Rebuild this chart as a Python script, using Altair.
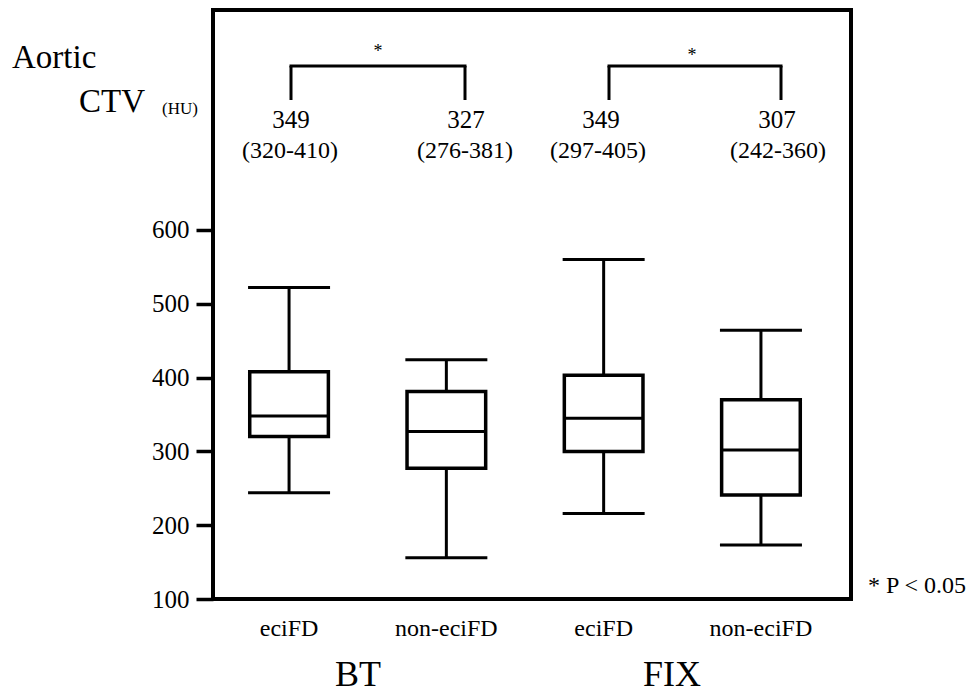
import altair as alt
import pandas as pd

# ---- data ----
groups = ["BT", "BT", "FIX", "FIX"]
categories = ["BT eciFD", "BT non-eciFD", "FIX eciFD", "FIX non-eciFD"]
cat_labels = ["eciFD", "non-eciFD", "eciFD", "non-eciFD"]
whisker_low = [244, 156, 216, 173]
q1 = [320, 277, 300, 241]
median = [348, 327, 345, 302]
q3 = [408, 381, 403, 370]
whisker_high = [522, 424, 560, 464]
median_text = ["349", "327", "349", "307"]
iqr_text = ["(320-410)", "(276-381)", "(297-405)", "(242-360)"]
y_ticks = [100, 200, 300, 400, 500, 600]

df = pd.DataFrame({
    "cat": categories,
    "low": whisker_low,
    "q1": q1,
    "med": median,
    "q3": q3,
    "high": whisker_high,
})

FONT = "Liberation Serif"
label_map = "{" + ",".join(f"'{c}':'{l}'" for c, l in zip(categories, cat_labels)) + "}"

xscale = alt.Scale(domain=categories, paddingInner=0.5, paddingOuter=0.278, align=0.42)
yscale = alt.Scale(domain=[100, 898], nice=False, zero=False)

x_enc = alt.X("cat:N", scale=xscale, sort=categories, title=None,
              axis=alt.Axis(labelExpr=f"{label_map}[datum.value]", ticks=False, domain=False,
                            labelAngle=0, labelFont=FONT, labelFontSize=24,
                            labelColor="black", labelPadding=17))
y_axis = alt.Axis(values=y_ticks, tickSize=17, tickWidth=3.5, tickColor="black", domain=False,
                  grid=False, labelFont=FONT, labelFontSize=25, labelColor="black",
                  labelPadding=7, title=None)

base = alt.Chart(df)

LW = 3
whisker = base.mark_rule(color="black", strokeWidth=LW, opacity=1).encode(
    x=x_enc, y=alt.Y("low:Q", scale=yscale, axis=y_axis), y2="high:Q")
box = base.mark_bar(fill="white", stroke="black", strokeWidth=3.5, opacity=1).encode(
    x=x_enc, y=alt.Y("q1:Q", scale=yscale), y2="q3:Q")
med = base.mark_tick(color="black", thickness=LW, size=80, opacity=1).encode(
    x=x_enc, y=alt.Y("med:Q", scale=yscale))
cap_lo = base.mark_tick(color="black", thickness=LW, size=82, opacity=1).encode(
    x=x_enc, y=alt.Y("low:Q", scale=yscale))
cap_hi = base.mark_tick(color="black", thickness=LW, size=82, opacity=1).encode(
    x=x_enc, y=alt.Y("high:Q", scale=yscale))

one = pd.DataFrame({"k": [0]})


def txt(s, x, y, size, align="center", baseline="middle"):
    return alt.Chart(one).mark_text(text=s, font=FONT, fontSize=size, color="black",
                                    align=align, baseline=baseline).encode(
        x=alt.value(x), y=alt.value(y))


def rule(x1, x2, y1, y2):
    return alt.Chart(one).mark_rule(color="black", strokeWidth=3).encode(
        x=alt.value(x1), x2=alt.value(x2), y=alt.value(y1), y2=alt.value(y2))


layers = [whisker, box, med, cap_lo, cap_hi]

# brackets + asterisks
layers += [rule(76.5, 253.5, 56, 56), rule(78, 78, 56, 90), rule(252, 252, 56, 90)]
layers += [rule(394.5, 569.5, 56, 56), rule(396, 396, 56, 90), rule(568, 568, 56, 90)]
layers += [txt("*", 165, 42, 18), txt("*", 479, 46, 18)]

# median / IQR annotations
med_x = [78, 253, 388, 564]
iqr_x = [77, 252, 385, 565]
for i in range(4):
    layers.append(txt(median_text[i], med_x[i], 110, 25))
    layers.append(txt(iqr_text[i], iqr_x[i], 141, 24))

# axis title pieces
layers += [txt("Aortic", -201, 48, 33, align="left"),
           txt("CTV", -134, 92, 33, align="left"),
           txt("(HU)", -51, 99, 17, align="left")]

# group labels and note
layers += [txt("BT", 145, 676, 36, baseline="alphabetic"),
           txt("FIX", 459, 676, 36, baseline="alphabetic"),
           txt("* P < 0.05", 655, 576, 24, align="left")]

chart = alt.layer(*layers).properties(
    width=638, height=589,
    autosize=alt.AutoSizeParams(type="none"),
    padding={"left": 213, "top": 10, "right": 122, "bottom": 94},
).configure_view(stroke="black", strokeWidth=4).configure_axis(labelFont=FONT)

chart.save("out.html", embed_options={"renderer": "svg", "actions": False})
